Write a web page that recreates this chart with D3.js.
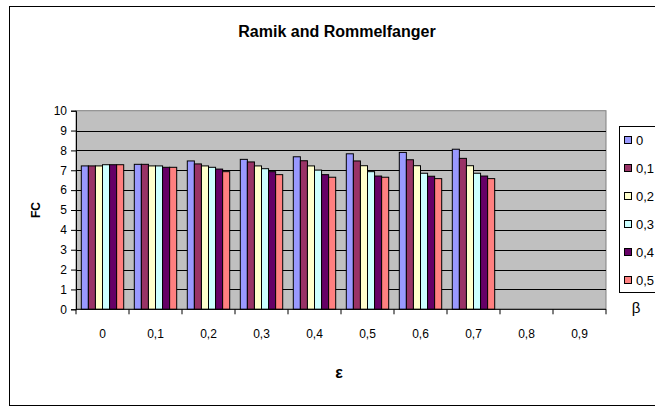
<!DOCTYPE html>
<html>
<head>
<meta charset="utf-8">
<script src="https://cdn.jsdelivr.net/npm/d3@7"></script>
<style>
  html, body { margin: 0; padding: 0; background: #fff; }
  svg { display: block; font-family: "Liberation Sans", Arial, sans-serif; }
</style>
</head>
<body>
<div id="chart"></div>
<script>
// Data
const epsilons = ["0", "0,1", "0,2", "0,3", "0,4", "0,5", "0,6", "0,7", "0,8", "0,9"];
const betas = ["0", "0,1", "0,2", "0,3", "0,4", "0,5"];
const beta0  = [7.22, 7.30, 7.47, 7.55, 7.68, 7.83, 7.90, 8.06, null, null];
const beta01 = [7.22, 7.30, 7.32, 7.42, 7.48, 7.47, 7.53, 7.60, null, null];
const beta02 = [7.22, 7.22, 7.22, 7.22, 7.22, 7.23, 7.23, 7.23, null, null];
const beta03 = [7.28, 7.22, 7.15, 7.08, 7.01, 6.93, 6.85, 6.85, null, null];
const beta04 = [7.28, 7.15, 7.06, 6.93, 6.78, 6.71, 6.70, 6.71, null, null];
const beta05 = [7.28, 7.15, 6.93, 6.78, 6.65, 6.65, 6.58, 6.58, null, null];
const series = [beta0, beta01, beta02, beta03, beta04, beta05];
const yTicks = [0, 1, 2, 3, 4, 5, 6, 7, 8, 9, 10];

const colors = ["#9999ff", "#993366", "#ffffcc", "#ccffff", "#660066", "#ff8080"];

const width = 655, height = 407;
const plot = { left: 76, right: 606, top: 110.7, bottom: 309.3 };

const svg = d3.select("#chart").append("svg")
    .attr("width", width)
    .attr("height", height);

// Outer frame (right side runs off the picture)
svg.append("rect")
    .attr("x", 9.5).attr("y", 6.5)
    .attr("width", 700).attr("height", 399)
    .attr("fill", "#fff")
    .attr("stroke", "#000");

const x = d3.scaleBand().domain(epsilons).range([plot.left, plot.right]).padding(0);
const y = d3.scaleLinear().domain([0, 10]).range([plot.bottom, plot.top]);

// gap width 150%
const barW = x.bandwidth() / (betas.length + 1.5);
const xInner = d3.scaleBand().domain(betas)
    .range([barW * 0.75, barW * 0.75 + barW * betas.length]);

// Plot area
svg.append("rect")
    .attr("x", plot.left).attr("y", plot.top)
    .attr("width", plot.right - plot.left).attr("height", plot.bottom - plot.top)
    .attr("fill", "#c0c0c0")
    .attr("stroke", "#808080");

// Gridlines
svg.append("g")
    .selectAll("line")
    .data(yTicks.filter(d => d > 0 && d < 10))
    .join("line")
    .attr("x1", plot.left).attr("x2", plot.right)
    .attr("y1", d => Math.round(y(d)) + 0.5)
    .attr("y2", d => Math.round(y(d)) + 0.5)
    .attr("stroke", "#000");

// Bars
const bars = [];
series.forEach((vals, si) => {
    vals.forEach((v, ci) => {
        if (v != null) bars.push({ s: si, c: epsilons[ci], v: v });
    });
});

svg.append("g")
    .selectAll("rect")
    .data(bars)
    .join("rect")
    .attr("x", d => x(d.c) + xInner(betas[d.s]))
    .attr("y", d => y(d.v))
    .attr("width", xInner.bandwidth())
    .attr("height", d => y(0) - y(d.v))
    .attr("fill", d => colors[d.s])
    .attr("stroke", "#000")
    .attr("stroke-width", 1);

// Y axis
const yAxis = svg.append("g")
    .attr("transform", `translate(${plot.left},0)`)
    .call(d3.axisLeft(y).tickValues(yTicks).tickSize(5).tickPadding(4).tickFormat(d3.format("d")));
yAxis.select(".domain").attr("stroke", "#000");
yAxis.selectAll("text").attr("font-size", "12px").attr("font-family", "Liberation Sans, Arial, sans-serif").attr("fill", "#000");

// X axis: ticks on category boundaries
const xAxisG = svg.append("g")
    .attr("transform", `translate(0,${plot.bottom})`);
xAxisG.append("line")
    .attr("x1", plot.left).attr("x2", plot.right)
    .attr("y1", 0).attr("y2", 0)
    .attr("stroke", "#000");
xAxisG.selectAll("line.tick")
    .data(epsilons.concat(["end"]))
    .join("line")
    .attr("class", "tick")
    .attr("x1", (d, i) => plot.left + i * x.step())
    .attr("x2", (d, i) => plot.left + i * x.step())
    .attr("y1", 0).attr("y2", 5)
    .attr("stroke", "#000");
xAxisG.selectAll("text")
    .data(epsilons)
    .join("text")
    .attr("x", d => x(d) + x.bandwidth() / 2)
    .attr("y", 29)
    .attr("text-anchor", "middle")
    .attr("font-size", "12px")
    .text(d => d);

// Title
svg.append("text")
    .attr("x", 337).attr("y", 37)
    .attr("text-anchor", "middle")
    .attr("font-size", "16px")
    .attr("font-weight", "bold")
    .text("Ramik and Rommelfanger");

// Axis titles
svg.append("text")
    .attr("transform", "translate(40,210) rotate(-90)")
    .attr("text-anchor", "middle")
    .attr("font-size", "12px")
    .attr("font-weight", "bold")
    .text("FC");

svg.append("text")
    .attr("x", 339).attr("y", 378)
    .attr("text-anchor", "middle")
    .attr("font-size", "16px")
    .attr("font-weight", "bold")
    .text("ε");

// Legend
const legend = svg.append("g");
legend.append("rect")
    .attr("x", 619.5).attr("y", 126.5)
    .attr("width", 60).attr("height", 166)
    .attr("fill", "#fff")
    .attr("stroke", "#000");

const item = legend.selectAll("g.item")
    .data(betas)
    .join("g")
    .attr("class", "item")
    .attr("transform", (d, i) => `translate(0,${140 + i * 28})`);
item.append("rect")
    .attr("x", 624.5).attr("y", -3.5)
    .attr("width", 7).attr("height", 7)
    .attr("fill", (d, i) => colors[i])
    .attr("stroke", "#000");
item.append("text")
    .attr("x", 636).attr("y", 5)
    .attr("font-size", "13px")
    .text(d => d);

svg.append("text")
    .attr("x", 636).attr("y", 313)
    .attr("text-anchor", "middle")
    .attr("font-size", "15px")
    .text("β");
</script>
</body>
</html>
